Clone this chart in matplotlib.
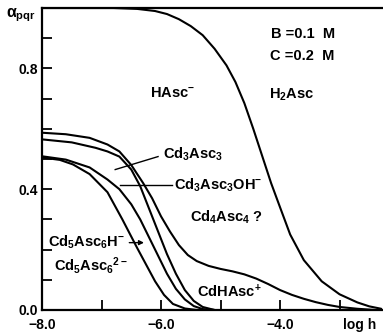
import numpy as np
import matplotlib
matplotlib.use("Agg")
import matplotlib.pyplot as plt

# ---------------- Data ----------------

# HAsc- / H2Asc boundary
H_X = [-8.0, -6.8, -6.4, -6.1, -5.9, -5.7, -5.5, -5.3, -5.1, -4.9, -4.75, -4.6,
       -4.45, -4.3, -4.15, -4.0, -3.83, -3.6, -3.3, -3.0, -2.7, -2.5, -2.3]
H_Y = [1.0, 1.0, 0.997, 0.99, 0.98, 0.963, 0.94, 0.91, 0.865, 0.81, 0.755, 0.685,
       0.60, 0.51, 0.42, 0.34, 0.25, 0.165, 0.095, 0.052, 0.025, 0.012, 0.004]

# outer curve with the CdHAsc+ shoulder
P_X = [-8.0, -7.6, -7.2, -6.9, -6.7, -6.5, -6.3, -6.15, -6.0, -5.85, -5.7, -5.55, -5.4,
       -5.2, -5.0, -4.8, -4.6, -4.4, -4.2, -4.0, -3.8, -3.6, -3.4, -3.2, -3.0, -2.7, -2.4]
P_Y = [0.587, 0.582, 0.57, 0.548, 0.525, 0.48, 0.42, 0.37, 0.31, 0.26, 0.215, 0.182, 0.162,
       0.146, 0.136, 0.128, 0.118, 0.104, 0.086, 0.066, 0.05, 0.037, 0.026, 0.017, 0.01, 0.004, 0.0]

C_X = [-8.0, -7.5, -7.1, -6.9, -6.7, -6.5, -6.35, -6.2, -6.05, -5.9, -5.75, -5.6, -5.45, -5.3, -5.1]
C_Y = [0.565, 0.555, 0.537, 0.525, 0.508, 0.465, 0.41, 0.335, 0.26, 0.185, 0.12, 0.066, 0.03, 0.01, 0.0]

D_X = [-8.0, -7.6, -7.2, -6.9, -6.7, -6.5, -6.35, -6.2, -6.05, -5.9, -5.75, -5.6, -5.45, -5.3, -5.1]
D_Y = [0.509, 0.498, 0.472, 0.432, 0.40, 0.35, 0.30, 0.24, 0.18, 0.12, 0.07, 0.035, 0.013, 0.003, 0.0]

E_X = [-8.0, -7.7, -7.48, -7.2, -6.9, -6.65, -6.4, -6.25, -6.1, -5.95, -5.8, -5.6, -5.4]
E_Y = [0.505, 0.497, 0.482, 0.45, 0.39, 0.30, 0.205, 0.15, 0.095, 0.05, 0.02, 0.005, 0.0]

CURVES = [(H_X, H_Y), (P_X, P_Y), (C_X, C_Y), (D_X, D_Y), (E_X, E_Y)]

X_MAJOR = [-8.0, -6.0, -4.0]
X_MINOR = [-7.0, -5.0, -3.0]
Y_TICKS = [0.0, 0.1, 0.2, 0.3, 0.4, 0.5, 0.6, 0.7, 0.8, 0.9]
Y_LABELED = [0.0, 0.4, 0.8]

# (text, x, y)
LABELS = [
    ("HAsc$^{-}$", -5.8, 0.718),
    ("H$_2$Asc", -3.8, 0.714),
    ("B =0.1  M", -3.62, 0.914),
    ("C =0.2  M", -3.62, 0.840),
    ("Cd$_3$Asc$_3$", -5.46, 0.515),
    ("Cd$_3$Asc$_3$OH$^{-}$", -5.04, 0.412),
    ("Cd$_4$Asc$_4$ ?", -4.9, 0.306),
    ("CdHAsc$^{+}$", -4.86, 0.062),
    ("Cd$_5$Asc$_6$H$^{-}$", -7.26, 0.223),
    ("Cd$_5$Asc$_6$$^{2-}$", -7.18, 0.146),
]

# ---------------- Plot ----------------

plt.rcParams["font.family"] = ["Liberation Sans", "DejaVu Sans"]
plt.rcParams["font.weight"] = "bold"
plt.rcParams["mathtext.fontset"] = "custom"
plt.rcParams["mathtext.rm"] = "Liberation Sans:bold"
plt.rcParams["mathtext.it"] = "Liberation Sans:bold"
plt.rcParams["mathtext.bf"] = "Liberation Sans:bold"
plt.rcParams["mathtext.default"] = "rm"

fig = plt.figure(figsize=(3.83, 3.32), dpi=100)
ax = fig.add_axes([0.1097, 0.0663, 0.8903, 0.9096])

for xs, ys in CURVES:
    ax.plot(xs, ys, color="black", linewidth=1.5, solid_capstyle="round")

ax.set_xlim(-8.0, -2.27)
ax.set_ylim(0.0, 1.0)

ax.spines["right"].set_visible(False)
for s in ("left", "bottom", "top"):
    ax.spines[s].set_linewidth(1.6)

ax.set_xticks(X_MAJOR + X_MINOR)
ax.set_xticklabels([f"{v:.1f}".replace("-", "\u2212") for v in X_MAJOR] + [""] * len(X_MINOR),
                   fontsize=10, fontweight="bold")
ax.set_yticks(Y_TICKS)
ax.set_yticklabels([f"{v:.1f}" if v in Y_LABELED else "" for v in Y_TICKS],
                   fontsize=10, fontweight="bold")
ax.tick_params(direction="in", length=7, width=1.3)
ax.tick_params(axis="x", pad=6)
ax.tick_params(axis="y", pad=3)

ax.text(-2.66, -0.028, "log h", ha="center", va="top", fontsize=10, fontweight="bold",
        clip_on=False)
ax.text(-8.6, 0.975, r"$\alpha_{pqr}$", ha="left", va="center", fontsize=11.5, clip_on=False)

for txt, x, y in LABELS:
    ax.text(x, y, txt, ha="center", va="center", fontsize=10.5)

# pointer lines
ax.plot([-6.05, -6.77], [0.508, 0.465], color="black", linewidth=1.0)
ax.plot([-5.82, -6.69], [0.415, 0.415], color="black", linewidth=1.0)
ax.annotate("", xy=(-6.24, 0.223), xytext=(-6.58, 0.223),
            arrowprops=dict(arrowstyle="-|>", color="black", lw=1.0, mutation_scale=7))

fig.savefig("out.png", dpi=100)
